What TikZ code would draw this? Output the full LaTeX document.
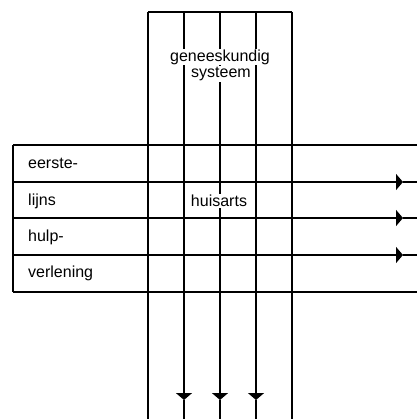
\documentclass[tikz,border=0pt]{standalone}
\usepackage{fontspec}
\setmainfont{Liberation Sans}
\usetikzlibrary{arrows.meta}
\begin{document}
\begin{tikzpicture}[x=1pt,y=-1pt,
  rule/.style={line width=1.2pt},
  flow/.style={line width=1.2pt,-{Triangle[width=16pt,length=7pt]}},
  label/.style={font=\fontsize{16}{17}\selectfont,fill=white,inner sep=0.8pt},
  rowtext/.style={font=\fontsize{16}{17}\selectfont,anchor=west,inner sep=0pt}]
\useasboundingbox (0,0) rectangle (417,419);
% vertical column: five lines
\foreach \i/\x in {1/148,2/184,3/220,4/256,5/292}{
  \coordinate (vt\i) at (\x,12);
  \coordinate (va\i) at (\x,400);
  \coordinate (vb\i) at (\x,419);
}
% horizontal band: five lines
\foreach \j/\y in {1/145,2/182,3/218,4/255,5/292}{
  \coordinate (hl\j) at (13,\y);
  \coordinate (ha\j) at (403,\y);
  \coordinate (hr\j) at (417,\y);
}
% outer borders
\draw[rule] (vt1) -- (vt5);
\draw[rule] (hl1) -- (hl5);
\draw[rule] (vt1) -- (vb1);
\draw[rule] (vt5) -- (vb5);
\draw[rule] (hl1) -- (hr1);
\draw[rule] (hl5) -- (hr5);
% inner flows with arrowheads
\foreach \i in {2,3,4}{
  \draw[flow] (vt\i) -- (va\i);
  \draw[rule] (va\i) -- (vb\i);
  \draw[flow] (hl\i) -- (ha\i);
  \draw[rule] (ha\i) -- (hr\i);
}
% labels
\node[label] (gen) at (220,57) {geneeskundig};
\node[label] (sys) at (221,74) {systeem};
\node[label] (huis) at (219,201) {huisarts};
\node[rowtext] (r1) at (28,163) {eerste-};
\node[rowtext] (r2) at (28,201) {lijns};
\node[rowtext] (r3) at (28,237) {hulp-};
\node[rowtext] (r4) at (28,273) {verlening};
\end{tikzpicture}
\end{document}
